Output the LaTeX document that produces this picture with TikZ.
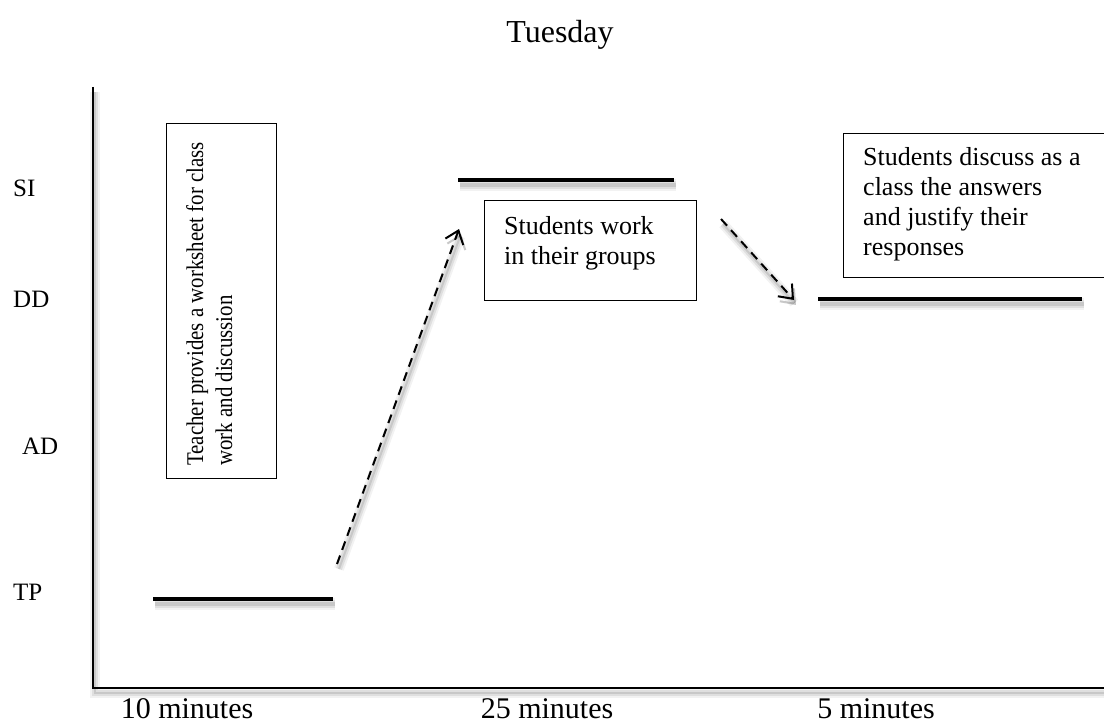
\documentclass[tikz,border=0pt]{standalone}
\usepackage{fontspec}
\setmainfont{Liberation Serif}
\usetikzlibrary{arrows.meta}
\begin{document}
\begin{tikzpicture}[x=1pt,y=-1pt,
  % soft grey shadow under a stroked path
  shadowed/.style={
    preaction={draw=black,opacity=0.05,line width=#1+8pt,transform canvas={shift={(2,5)}}},
    preaction={draw=black,opacity=0.08,line width=#1+4pt,transform canvas={shift={(2,5)}}},
    preaction={draw=black,opacity=0.10,line width=#1,transform canvas={shift={(2,5)}}}},
  axisline/.style={shadowed=2.5pt,line width=2.5pt,line cap=butt,line join=miter},
  levelline/.style={shadowed=3.5pt,line width=3.5pt,line cap=butt},
  flowarrow/.style={shadowed=2pt,line width=2pt,dash pattern=on 9pt off 6pt,
    -{Straight Barb[length=12pt,width=19pt,line width=2pt]}},
  framebox/.style={draw,line width=1.3pt,inner sep=0pt,anchor=north west},
  boxtext/.style={inner sep=0pt,anchor=north west,align=left,
    font=\fontsize{26}{30}\selectfont},
  levellabel/.style={inner sep=0pt,anchor=base west,font=\fontsize{25}{30}\selectfont},
  timelabel/.style={inner sep=0pt,anchor=base,font=\fontsize{30}{36}\selectfont}]

\path[use as bounding box] (0,0) rectangle (1104,725);
\clip (0,0) rectangle (1104,725);

% title
\node[inner sep=0pt,anchor=base,font=\fontsize{32}{38}\selectfont] (title) at (560,43) {Tuesday};

% axes
\coordinate (ytop) at (93,87);
\coordinate (origin) at (93,688);
\coordinate (xend) at (1110,688);
\draw[axisline] (ytop) -- (origin) -- (xend);

% level labels
\node[levellabel] (si) at (13,196) {SI};
\node[levellabel] (dd) at (13,307) {DD};
\node[levellabel] (ad) at (22,454) {AD};
\node[levellabel] (tp) at (13,600) {TP};

% time labels
\node[timelabel] (t1) at (187,718) {10 minutes};
\node[timelabel] (t2) at (547,718) {25 minutes};
\node[timelabel] (t3) at (876,718) {5 minutes};

% phase levels
\coordinate (tpa) at (153,599);
\coordinate (tpb) at (333,599);
\draw[levelline] (tpa) -- (tpb);
\coordinate (sia) at (458,180);
\coordinate (sib) at (674,180);
\draw[levelline] (sia) -- (sib);
\coordinate (dda) at (818,299);
\coordinate (ddb) at (1082,299);
\draw[levelline] (dda) -- (ddb);

% transitions
\coordinate (up0) at (337,564);
\coordinate (up1) at (459,229);
\draw[flowarrow] (up0) -- (up1);
\coordinate (down0) at (721,219);
\coordinate (down1) at (794,300);
\draw[flowarrow] (down0) -- (down1);

% phase descriptions
\node[framebox,minimum width=110pt,minimum height=355pt] (teacherbox) at (166,123) {};
\node[inner sep=0pt,anchor=north west,rotate=90,xscale=0.87,align=left,
  font=\fontsize{24}{29}\selectfont] (teachertext) at (186,466)
  {Teacher provides a worksheet for class\\work and discussion};

\node[framebox,minimum width=212pt,minimum height=100pt] (groupbox) at (484,200) {};
\node[boxtext] (grouptext) at (504,216) {Students work\\in their groups};

\node[framebox,minimum width=280pt,minimum height=144pt] (classbox) at (843,133) {};
\node[boxtext] (classtext) at (863,147)
  {Students discuss as a\\class the answers\\and justify their\\responses};

\end{tikzpicture}
\end{document}
